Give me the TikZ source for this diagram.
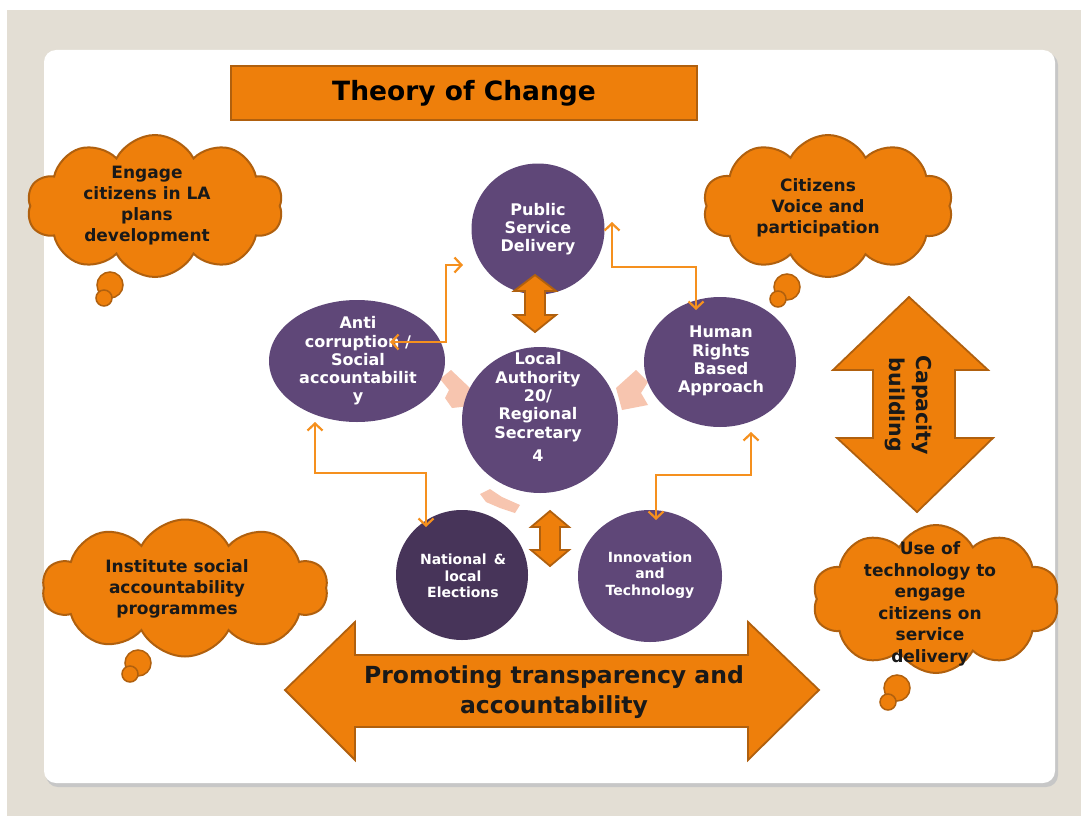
\documentclass[tikz,border=0pt]{standalone}
\usepackage{fontspec}
\setmainfont{DejaVu Sans}
\usetikzlibrary{shapes.symbols,shapes.geometric,arrows.meta,calc}
\definecolor{bg}{HTML}{E3DED4}
\definecolor{org}{HTML}{EE7F0B}
\definecolor{orgd}{HTML}{B0600E}
\definecolor{pur}{HTML}{5F4778}
\definecolor{purd}{HTML}{473459}
\definecolor{lnk}{HTML}{F5901E}
\definecolor{pale}{HTML}{F7C5AF}
\begin{document}
\begin{tikzpicture}[x=1pt,y=-1pt,
 orangebox/.style={fill=org,draw=orgd,line width=1.8pt},
 bubble/.style={cloud,cloud puffs=10,cloud puff arc=125,fill=org,draw=orgd,line width=2pt,inner sep=0pt},
 tailpuff/.style={circle,fill=org,draw=orgd,line width=1.5pt,inner sep=0pt},
 cloudtext/.style={align=center,text=black!90,font=\bfseries\fontsize{17}{21}\selectfont},
 disc/.style={ellipse,fill=pur,draw=none,inner sep=0pt},
 disctext/.style={align=center,text=white,font=\bfseries\fontsize{16}{18.3}\selectfont},
 smalltext/.style={align=center,text=white,font=\bfseries\fontsize{14}{16.5}\selectfont},
 link/.style={draw=lnk,line width=2.2pt,{Straight Barb[length=7pt,width=15pt]}-{Straight Barb[length=7pt,width=15pt]}},
 blockarrow/.style={fill=org,draw=orgd,line width=1.8pt,line join=miter},
 palearrow/.style={fill=pale,draw=none}
]
\useasboundingbox (0,0) rectangle (1081,816);
% background and panel
\fill[white] (0,0) rectangle (1081,816);
\fill[bg] (7,10) rectangle (1081,816);
\fill[black!22,rounded corners=12pt] (46,53) rectangle (1058,787);
\fill[white,rounded corners=12pt] (44,50) rectangle (1055,783);

% title
\node[orangebox,minimum width=466pt,minimum height=54pt,inner sep=0pt,
  font=\bfseries\fontsize{26.5}{30}\selectfont] (title) at (464,93) {Theory of Change};

% clouds
\node[bubble,minimum width=256pt,minimum height=142pt] (c1) at (155,206) {};
\node[tailpuff,minimum size=26pt] (c1t1) at (110,285) {};
\node[tailpuff,minimum size=16pt] (c1t2) at (104,298) {};
\node[cloudtext] (t1) at (147,206) {Engage\\citizens in LA\\plans\\development};

\node[bubble,minimum width=250pt,minimum height=142pt] (c2) at (828,206) {};
\node[tailpuff,minimum size=26pt] (c2t1) at (787,287) {};
\node[tailpuff,minimum size=16pt] (c2t2) at (778,299) {};
\node[cloudtext] (t2) at (818,208) {Citizens\\Voice and\\participation};

\node[bubble,minimum width=285pt,minimum height=137pt] (c3) at (185,588) {};
\node[tailpuff,minimum size=26pt] (c3t1) at (138,663) {};
\node[tailpuff,minimum size=16pt] (c3t2) at (130,674) {};
\node[cloudtext] (t3) at (177,589) {Institute social\\accountability\\programmes};

\node[bubble,minimum width=247pt,minimum height=148pt] (c4) at (936,599) {};
\node[tailpuff,minimum size=26pt] (c4t1) at (897,688) {};
\node[tailpuff,minimum size=16pt] (c4t2) at (888,702) {};
\node[cloudtext,font=\bfseries\fontsize{17}{21.5}\selectfont] (t4) at (930,604) {Use of\\technology to\\engage\\citizens on\\service\\delivery};

% pale cycle arrows
\fill[palearrow] (440,379) -- (451,370) -- (470,388) -- (470,406) -- (452,408) -- (445,398) -- (449,390) -- cycle;
\fill[palearrow] (616,388) -- (636,370) -- (648,382) -- (641,393) -- (648,405) -- (622,410) -- cycle;
\fill[palearrow] (480,494) -- (490,489) -- (502,497) -- (520,505) -- (515,513) -- (500,508) -- (486,502) -- cycle;

% circles
\node[disc,minimum width=133pt,minimum height=131pt] (psd) at (538,229) {};
\node[disctext] (psdt) at (538,229) {Public\\Service\\Delivery};
\node[disc,minimum width=176pt,minimum height=122pt] (anti) at (357,361) {};
\node[disctext] (antit) at (358,361) {Anti\\corruption /\\Social\\accountabilit\\y};
\node[disc,minimum width=152pt,minimum height=130pt] (hr) at (720,362) {};
\node[disctext] (hrt) at (721,361) {Human\\Rights\\Based\\Approach};
\node[disc,minimum width=156pt,minimum height=146pt] (la) at (540,420) {};
\node[disctext] (lat) at (538,407) {Local\\Authority\\20/\\Regional\\Secretary\\[5pt]4};
\node[disc,fill=purd,minimum width=132pt,minimum height=130pt] (nat) at (462,575) {};
\node[smalltext] (natt) at (463,576) {National \,\&\\local\\Elections};
\node[disc,minimum width=144pt,minimum height=132pt] (inn) at (650,576) {};
\node[smalltext] (innt) at (650,575) {Innovation\\and\\Technology};

% small block arrows
\filldraw[blockarrow] (535,275) -- (556,291) -- (545,291) -- (545,315) -- (556,315) -- (535,332)
  -- (514,315) -- (525,315) -- (525,291) -- (514,291) -- cycle;
\filldraw[blockarrow] (550,511) -- (569,527) -- (560,527) -- (560,550) -- (569,550) -- (550,566)
  -- (531,550) -- (540,550) -- (540,527) -- (531,527) -- cycle;

% connectors
\coordinate (c1a) at (390,342);
\coordinate (c1b) at (463,265);
\draw[link] (c1a) -- ++(56,0) |- (c1b);
\coordinate (c2a) at (612,222);
\coordinate (c2b) at (696,310);
\draw[link] (c2a) -- ++(0,45) -| (c2b);
\coordinate (c3a) at (315,422);
\coordinate (c3b) at (426,527);
\draw[link] (c3a) -- ++(0,51) -| (c3b);
\coordinate (c4a) at (751,432);
\coordinate (c4b) at (656,520);
\draw[link] (c4a) -- ++(0,43) -| (c4b);

% capacity building arrow
\filldraw[blockarrow] (909,297) -- (988,370) -- (955,370) -- (955,438) -- (993,438) -- (917,512)
  -- (837,438) -- (873,438) -- (873,370) -- (833,370) -- cycle;
\node[rotate=-90,align=center,text=black!90,font=\bfseries\fontsize{20.5}{27}\selectfont] (cap) at (909,405) {Capacity\\building};

% promoting arrow
\filldraw[blockarrow] (285,690) -- (355,622) -- (355,655) -- (748,655) -- (748,622) -- (819,690)
  -- (748,760) -- (748,727) -- (355,727) -- (355,760) -- cycle;
\node[align=center,text=black!90,font=\bfseries\fontsize{23.5}{30}\selectfont] (prom) at (554,692) {Promoting transparency and\\accountability};
\end{tikzpicture}
\end{document}
